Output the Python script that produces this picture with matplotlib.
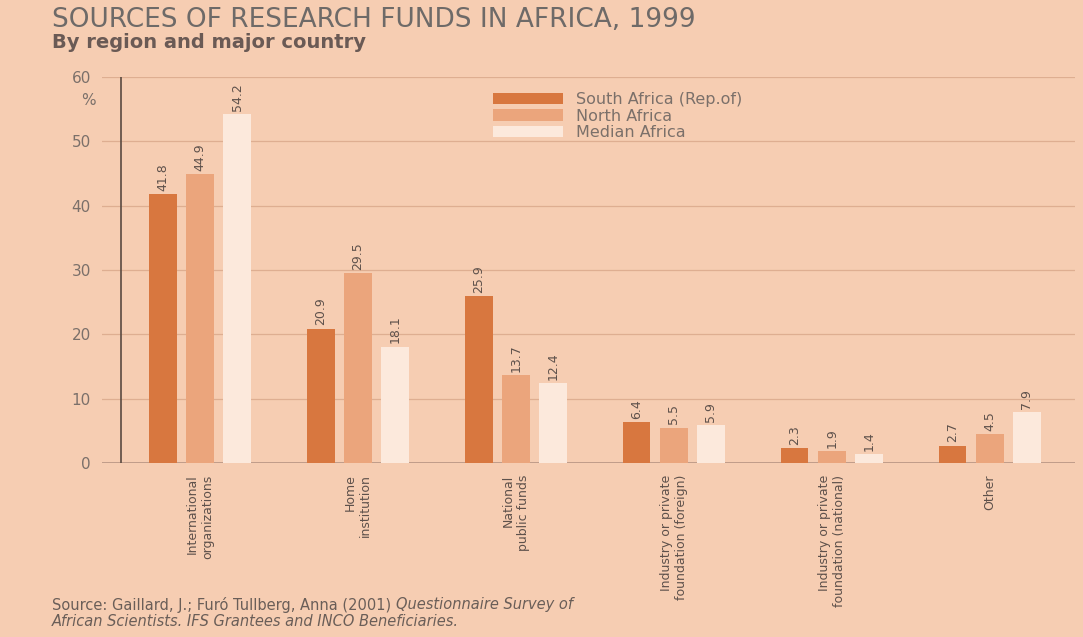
import matplotlib
matplotlib.use("Agg")
import matplotlib.pyplot as plt
import numpy as np

# --- data ---
categories = [
    "International\norganizations",
    "Home\ninstitution",
    "National\npublic funds",
    "Industry or private\nfoundation (foreign)",
    "Industry or private\nfoundation (national)",
    "Other",
]
series_names = ["South Africa (Rep.of)", "North Africa", "Median Africa"]
south_africa = [41.8, 20.9, 25.9, 6.4, 2.3, 2.7]
north_africa = [44.9, 29.5, 13.7, 5.5, 1.9, 4.5]
median_africa = [54.2, 18.1, 12.4, 5.9, 1.4, 7.9]
yticks = [0, 10, 20, 30, 40, 50, 60]

BG = "#f6cdb2"
colors = ["#d8773f", "#eba57c", "#fce9dc"]
TXT = "#5e514b"
GREY = "#7b706a"

fig = plt.figure(figsize=(10.83, 6.37), dpi=100, facecolor=BG)
ax = fig.add_axes([102 / 1083, 174 / 637, (1075 - 102) / 1083, (463 - 77) / 637])
ax.set_facecolor(BG)

x = np.arange(len(categories))
width, step = 0.175, 0.235
for k, (vals, col) in enumerate(zip([south_africa, north_africa, median_africa], colors)):
    xs = x + (k - 1) * step
    ax.bar(xs, vals, width, color=col, label=series_names[k], zorder=3)
    for xi, v in zip(xs, vals):
        ax.text(xi, v + 0.5, f"{v:.1f}", rotation=90, ha="center", va="bottom",
                fontsize=9, color=TXT, zorder=4)

ax.set_xlim(-0.62, 5.54)
ax.set_ylim(0, 60)
ax.set_yticks(yticks)
ax.yaxis.grid(True, color="#deae91", lw=0.9, zorder=1)
ax.tick_params(axis="y", length=0, pad=8, labelsize=11, labelcolor=GREY)
ax.set_xticks([])
for s in ax.spines.values():
    s.set_visible(False)
ax.axhline(0, color="#b89583", lw=1.2, zorder=2)
ax.axvline(-0.5, color="#5a4a40", lw=1.2, zorder=2)
ax.text(-0.66, 56.3, "%", ha="right", va="center", fontsize=11, color=GREY)

for xi, lab in zip(x, categories):
    ax.text(xi, -1.8, lab, rotation=90, ha="center", va="top",
            multialignment="right", fontsize=9, color=TXT)

fig.legend(loc="upper left", bbox_to_anchor=(485 / 1083, 1 - 84 / 637),
           frameon=False, fontsize=11.5, handlelength=4.4, handleheight=0.7,
           handletextpad=0.8, labelspacing=0.1, borderpad=0, labelcolor=GREY)

fig.text(52 / 1083, 1 - 20 / 637, "SOURCES OF RESEARCH FUNDS IN AFRICA, 1999",
         fontsize=19, color="#6e6a68", va="center", ha="left")
fig.text(52 / 1083, 1 - 42 / 637, "By region and major country",
         fontsize=14, fontweight="bold", color="#6a5a55", va="center", ha="left")

# source note with italic title
fig.canvas.draw()
r = fig.canvas.get_renderer()
t1 = fig.text(52 / 1083, 1 - 605 / 637, "Source: Gaillard, J.; Furó Tullberg, Anna (2001) ",
              fontsize=10.5, color="#6a5e58", va="center", ha="left")
bb = t1.get_window_extent(r)
fig.text(bb.x1 / fig.bbox.width, 1 - 605 / 637, "Questionnaire Survey of",
         fontsize=10.5, color="#6a5e58", style="italic", va="center", ha="left")
fig.text(52 / 1083, 1 - 621 / 637, "African Scientists. IFS Grantees and INCO Beneficiaries.",
         fontsize=10.5, color="#6a5e58", style="italic", va="center", ha="left")

fig.savefig("out.png", dpi=100, facecolor=BG)
